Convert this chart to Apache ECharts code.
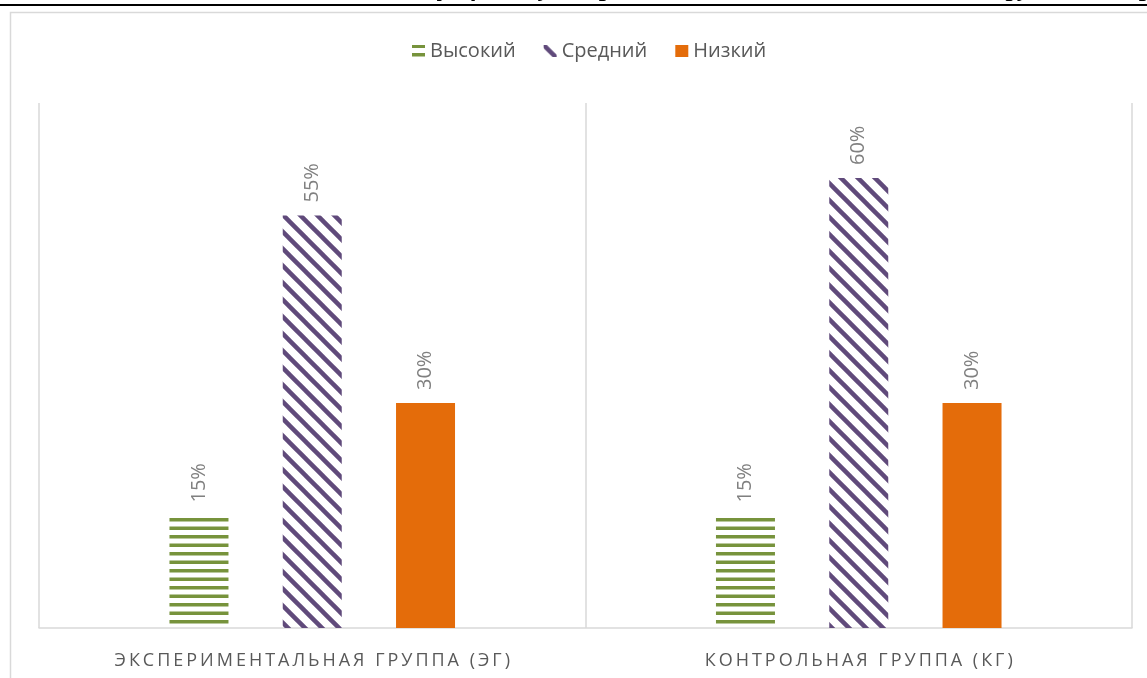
<!DOCTYPE html>
<html>
<head>
<meta charset="utf-8">
<script src="https://cdn.jsdelivr.net/npm/echarts@6/dist/echarts.min.js"></script>
<style>
html,body{margin:0;padding:0;background:#fff;}
#chart{width:1147px;height:678px;}
</style>
</head>
<body>
<div id="chart"></div>
<script>
const categories = ['ЭКСПЕРИМЕНТАЛЬНАЯ ГРУППА (ЭГ)', 'КОНТРОЛЬНАЯ ГРУППА (КГ)'];
const seriesNames = ['Высокий', 'Средний', 'Низкий'];
const highValues = [15, 15];
const midValues = [55, 60];
const lowValues = [30, 30];
const headerText = 'и когнитивных дефицитов у старших дошкольников с тяжелыми нарушениями речи';

function hPattern(color) {
  const c = document.createElement('canvas');
  c.width = 4; c.height = 17;
  const g = c.getContext('2d');
  g.fillStyle = color;
  g.fillRect(0, 8, 4, 3.5);
  g.fillRect(0, 16.5, 4, 0.5);
  g.fillRect(0, 0, 4, 3);
  return { image: c, repeat: 'repeat' };
}
function dPattern(color) {
  const c = document.createElement('canvas');
  c.width = 17; c.height = 17;
  const g = c.getContext('2d');
  g.strokeStyle = color;
  g.lineWidth = 4.5;
  for (let k = -1; k <= 1; k++) {
    g.beginPath();
    g.moveTo(k * 17 - 2, -2);
    g.lineTo(k * 17 + 19, 19);
    g.stroke();
  }
  return { image: c, repeat: 'repeat' };
}

const chart = echarts.init(document.getElementById('chart'), null, { renderer: 'canvas' });
const labelCfg = {
  show: true, position: 'top', rotate: 90, distance: 13,
  align: 'left', verticalAlign: 'middle',
  formatter: '{c}%', color: '#808080',
  fontFamily: '"Open Sans"', fontSize: 20
};
const barW = 59;
chart.setOption({
  animation: false,
  backgroundColor: '#fff',
  graphic: [
    { type: 'rect', shape: { x: 10.5, y: 12.5, width: 1300, height: 800 },
      style: { fill: 'none', stroke: '#d9d9d9', lineWidth: 1.5 }, silent: true },
    { type: 'text', left: 233, top: -23,
      style: { text: headerText, font: 'italic bold 25px "Liberation Serif"', fill: '#000' } },
    { type: 'line', shape: { x1: 0, y1: 5, x2: 1147, y2: 5 },
      style: { stroke: '#000', lineWidth: 2 } }
  ],
  legend: {
    top: 36, left: 407,
    itemWidth: 13, itemHeight: 12, itemGap: 28,
    icon: 'rect',
    textStyle: { color: '#595959', fontFamily: '"Open Sans"', fontSize: 20 },
    data: seriesNames
  },
  grid: { left: 39, right: 15, top: 103, bottom: 50 },
  xAxis: {
    type: 'category', data: categories,
    axisLine: { lineStyle: { color: '#d9d9d9', width: 1.5 } },
    axisTick: { show: false },
    splitLine: { show: true, interval: 0, lineStyle: { color: '#d9d9d9', width: 1.5 } },
    axisLabel: {
      interval: 0, hideOverlap: false,
      color: '#595959', fontFamily: '"Open Sans"', fontSize: 18, margin: 24,
      formatter: v => v.split('').join('\u2009')
    }
  },
  yAxis: { type: 'value', min: 0, max: 70, show: false, splitLine: { show: false } },
  series: [
    { name: seriesNames[0], type: 'bar', data: highValues, barWidth: barW, barGap: '92%',
      itemStyle: { color: hPattern('#77933C') }, label: labelCfg },
    { name: seriesNames[1], type: 'bar', data: midValues, barWidth: barW, barGap: '92%',
      itemStyle: { color: dPattern('#604A7B') }, label: labelCfg },
    { name: seriesNames[2], type: 'bar', data: lowValues, barWidth: barW, barGap: '92%',
      itemStyle: { color: '#E46C0A' }, label: labelCfg }
  ]
});
</script>
</body>
</html>
